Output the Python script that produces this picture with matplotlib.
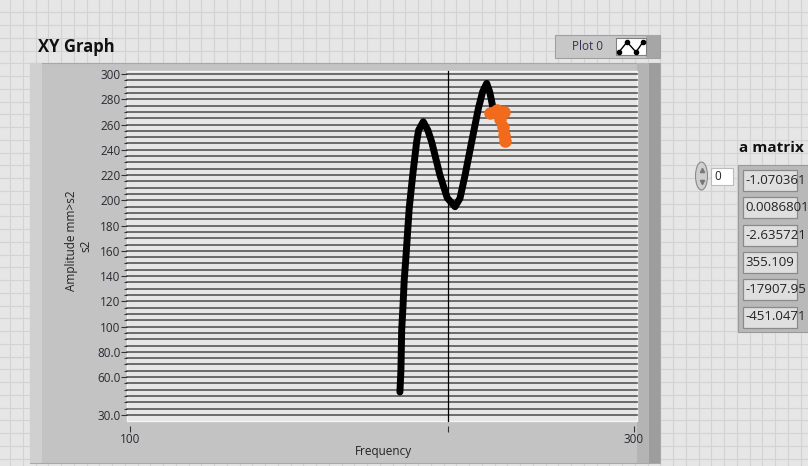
import numpy as np
import matplotlib
matplotlib.use("Agg")
import matplotlib.pyplot as plt
from matplotlib.patches import Rectangle, Ellipse
from matplotlib.ticker import FixedLocator, NullLocator

plt.rcParams["font.family"] = ["Open Sans", "DejaVu Sans"]

# black trace (frequency, amplitude)
freq = [180.1, 180.5, 180.8, 181.3, 181.8, 182.4, 183.2, 183.8, 185.2, 186.8,
        187.6, 189.5, 191.4, 193.0, 196.5, 199.7, 203.1, 205.3, 207.6, 210.6,
        213.7, 215.7, 217.6, 219.0, 220.0, 220.8]
amp = [48.2, 65.6, 97.3, 115.5, 136.9, 152.7, 176.5, 193.9, 220.0, 246.4,
       255.5, 262.2, 255.5, 246.4, 220.0, 201.8, 194.9, 201.6, 220.0, 246.4,
       272.8, 286.0, 292.6, 286.0, 278.1, 271.5]

# orange blob at the end of the trace
freq2 = [219.2, 222.6, 226.0, 224.0, 225.5, 226.0, 226.5]
amp2 = [269.1, 271.5, 269.9, 264.0, 258.0, 252.0, 246.9]

y_major = [30, 60, 80, 100, 120, 140, 160, 180, 200, 220, 240, 260, 280, 300]
y_labels = ["30.0", "60.0", "80.0", "100", "120", "140", "160", "180", "200",
            "220", "240", "260", "280", "300"]
x_major = [100, 200, 300]
x_labels = ["100", "", "300"]

matrix_values = ["-1.070361", "0.0086801", "-2.635721", "355.109",
                 "-17907.95", "-451.0471"]

W, H = 808, 466
fig = plt.figure(figsize=(W / 100, H / 100), dpi=100)
fig.patch.set_facecolor("#e6e6e6")

# pixel-space layer for the LabVIEW panel decoration
bg = fig.add_axes([0, 0, 1, 1], zorder=0)
bg.set_xlim(0, W)
bg.set_ylim(H, 0)
bg.axis("off")

for gx in np.arange(10, W, 12.75):
    bg.plot([gx, gx], [0, H], color="#d3d3d3", lw=0.8, zorder=0)
for gy in np.arange(12.3, H, 12.75):
    bg.plot([0, W], [gy, gy], color="#d3d3d3", lw=0.8, zorder=0)

# graph frame
bg.add_patch(Rectangle((30, 63), 630, 400, fc="#c3c3c3", ec="#a8a8a8", lw=0.8))
bg.add_patch(Rectangle((30, 63), 12, 400, fc="#d0d0d0", ec="none"))
bg.add_patch(Rectangle((637, 63), 12, 400, fc="#b4b4b4", ec="none"))
bg.add_patch(Rectangle((649, 63), 11, 400, fc="#9d9d9d", ec="none"))
bg.add_patch(Rectangle((127, 71), 510, 350, fc="#e6e6e6", ec="#f4f4f4", lw=1.0))

bg.text(38, 47, "XY Graph", fontsize=12, fontweight="bold", color="#111111",
        ha="left", va="center")
bg.text(72, 241, "Amplitude mm>s2", fontsize=8.5, rotation=90, color="#222222",
        ha="center", va="center")
bg.text(86, 246, "s2", fontsize=8.5, rotation=90, color="#222222",
        ha="center", va="center")
bg.text(383, 452, "Frequency", fontsize=8.5, color="#222222", ha="center", va="center")

# legend
bg.add_patch(Rectangle((555, 35), 105, 23, fc="#c8c8c8", ec="#a0a0a0", lw=0.8))
bg.add_patch(Rectangle((646, 35), 14, 23, fc="#a6a6a6", ec="none"))
bg.text(572, 46.5, "Plot 0", fontsize=8.5, color="#333355", ha="left", va="center")
bg.add_patch(Rectangle((616, 38), 30, 17, fc="white", ec="#808080", lw=0.8))
bg.plot([619, 627, 636, 643], [52, 42, 52, 42], "-o", color="black", ms=3, lw=1)

# array indicator on the right
bg.text(739, 148, "a matrix", fontsize=11, fontweight="bold", color="#111111",
        ha="left", va="center")
bg.add_patch(Ellipse((701.5, 176), 12, 28, fc="#cfcfcf", ec="#8a8a8a", lw=0.8))
bg.plot([701.5], [170], marker="^", color="#777777", ms=3)
bg.plot([701.5], [182], marker="v", color="#777777", ms=3)
bg.add_patch(Rectangle((711, 168), 22, 17, fc="white", ec="#bbbbbb", lw=0.8))
bg.text(714, 176.5, "0", fontsize=8.5, color="#222222", ha="left", va="center")
bg.add_patch(Rectangle((738, 165), 80, 167, fc="#b9b9b9", ec="#999999", lw=0.8))
for i, val in enumerate(matrix_values):
    y0 = 170 + 27.3 * i
    box = Rectangle((743, y0), 54, 21, fc="#dfdfdf", ec="#8a8a8a", lw=0.9)
    bg.add_patch(box)
    t = bg.text(745, y0 + 10.5, val, fontsize=9.5, color="#222222",
                ha="left", va="center")
    t.set_clip_path(box)

# the graph itself
ax = fig.add_axes([130 / W, (H - 415) / H, 504 / W, 341 / H], zorder=1)
ax.patch.set_visible(False)
ax.set_xscale("log")
ax.set_xlim(100, 300)
ax.set_ylim(30, 300)
for s in ax.spines.values():
    s.set_visible(False)
ax.spines["left"].set_position(("outward", 2))
ax.spines["bottom"].set_position(("outward", 8))

for v in range(30, 301, 5):
    ax.axhline(v, xmin=-3 / 504, xmax=1 + 3 / 504, color="#575757", lw=1.2,
               clip_on=False, zorder=1)
ax.axvline(200, ymin=-6 / 341, ymax=1 + 3 / 341, color="black", lw=0.9,
           clip_on=False, zorder=2)

ax.plot(freq, amp, color="black", lw=5, solid_capstyle="round",
        solid_joinstyle="round", zorder=3)
ax.plot(freq2, amp2, "-o", color="#f26a1b", lw=7, ms=8,
        solid_capstyle="round", zorder=4)

ax.yaxis.set_major_locator(FixedLocator(y_major))
ax.set_yticklabels(y_labels)
ax.yaxis.set_minor_locator(FixedLocator(list(range(30, 301, 5))))
ax.xaxis.set_major_locator(FixedLocator(x_major))
ax.xaxis.set_minor_locator(NullLocator())
ax.set_xticklabels(x_labels)

ax.tick_params(axis="both", which="major", direction="out", length=4, width=0.8,
               color="#333333", labelsize=8.5, labelcolor="#2a2a33", pad=1)
ax.tick_params(axis="y", which="minor", direction="out", length=2, width=0.8,
               color="#333333")

fig.savefig("out.png", dpi=100)
